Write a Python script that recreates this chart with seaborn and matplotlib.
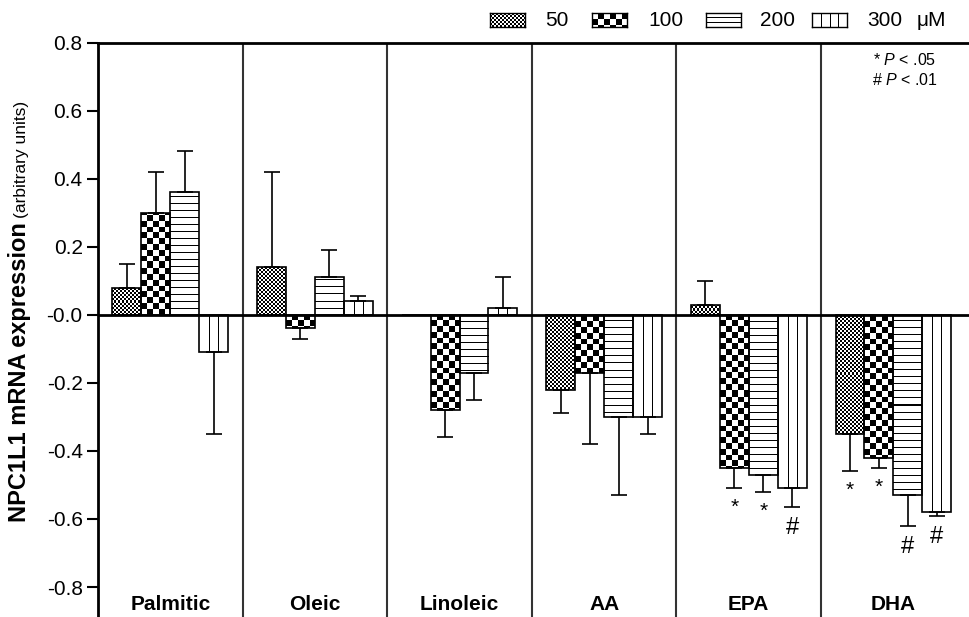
import numpy as np
import pandas as pd
import matplotlib
matplotlib.use('Agg')
from matplotlib import pyplot as plt
import seaborn as sns

# 数据: 各脂肪酸在4个浓度下的 NPC1L1 mRNA 表达 (均值, 误差)
acids = ['Palmitic', 'Oleic', 'Linoleic', 'AA', 'EPA', 'DHA']
doses = ['50', '100', '200', '300']
mean_50 = [0.08, 0.14, 0.0, -0.22, 0.03, -0.35]
mean_100 = [0.30, -0.04, -0.28, -0.17, -0.45, -0.42]
mean_200 = [0.36, 0.11, -0.17, -0.30, -0.47, -0.53]
mean_300 = [-0.11, 0.04, 0.02, -0.30, -0.51, -0.58]
err_50 = [0.07, 0.28, 0.0, 0.07, 0.07, 0.11]
err_100 = [0.12, 0.03, 0.08, 0.21, 0.06, 0.03]
err_200 = [0.12, 0.08, 0.08, 0.23, 0.05, 0.09]
err_300 = [0.24, 0.015, 0.09, 0.05, 0.055, 0.012]
# 显著性标记
sig_marks = [('EPA', '100', '*'), ('EPA', '200', '*'), ('EPA', '300', '#'),
             ('DHA', '50', '*'), ('DHA', '100', '*'), ('DHA', '200', '#'), ('DHA', '300', '#')]
ytick_vals = [-0.8, -0.6, -0.4, -0.2, 0.0, 0.2, 0.4, 0.6, 0.8]
ytick_labels = ['-0.8', '-0.6', '-0.4', '-0.2', '-0.0', '0.2', '0.4', '0.6', '0.8']

means = {'50': mean_50, '100': mean_100, '200': mean_200, '300': mean_300}
errs = {'50': err_50, '100': err_100, '200': err_200, '300': err_300}
rows = []
for d in doses:
    for i, a in enumerate(acids):
        rows.append({'acid': a, 'dose': d, 'value': means[d][i], 'err': errs[d][i]})
df = pd.DataFrame(rows)

sns.set_style('white')
plt.rcParams['font.family'] = ['Liberation Sans', 'DejaVu Sans']
plt.rcParams['mathtext.fontset'] = 'custom'
plt.rcParams['mathtext.rm'] = 'Liberation Sans'
plt.rcParams['mathtext.it'] = 'Liberation Sans:italic'
for key in ['text.color', 'axes.labelcolor', 'xtick.color', 'ytick.color', 'axes.edgecolor']:
    plt.rcParams[key] = 'black'

W, H = 970, 617
fig = plt.figure(figsize=(W / 100, H / 100), dpi=100)
ax = fig.add_axes([98 / W, 0, 872 / W, (H - 42.5) / H])

sns.barplot(data=df, x='acid', y='value', hue='dose', order=acids, hue_order=doses,
            palette={d: 'white' for d in doses}, saturation=1, edgecolor='black',
            linewidth=1.2, errorbar=None, width=0.8, legend=False, ax=ax)

ax.set_xlim(-0.5, 5.53)
ax.set_ylim(-0.888, 0.8)
ax.set_autoscale_on(False)


# 填充图案 (像素单位)
def pattern(kind, w, h, n):
    yy, xx = np.mgrid[0:h, 0:w]
    if kind == 'fine':
        return ((xx // 2 + yy // 2) % 2).astype(float)
    if kind == 'checker':
        c = w / n
        return (np.floor(xx / c) + np.floor(yy / c)) % 2
    if kind == 'hlines':
        return (yy % n == n - 1).astype(float)
    cuts = [int(round(w * j / n)) for j in range(1, n)]
    return np.isin(xx, cuts).astype(float)


kinds = {'50': 'fine', '100': 'checker', '200': 'hlines', '300': 'vlines'}
bar_n = {'50': 0, '100': 5, '200': 7, '300': 3}
key_n = {'50': 0, '100': 6, '200': 5, '300': 4}

bars = {}
for p in list(ax.patches):
    cx = p.get_x() + p.get_width() / 2
    i = int(round(cx))
    k = int(round((cx - i + 0.3) / 0.2))
    bars[(acids[i], doses[k])] = p
    h = p.get_height()
    p.set_facecolor('none')
    p.set_zorder(2)
    if abs(h) < 1e-6:
        continue
    bb = p.get_window_extent()
    wpx = max(int(round(bb.width)), 1)
    hpx = max(int(round(bb.height)), 1)
    arr = pattern(kinds[doses[k]], wpx, hpx, bar_n[doses[k]])
    y0, y1 = sorted([p.get_y(), p.get_y() + h])
    im = ax.imshow(arr, extent=(p.get_x(), p.get_x() + p.get_width(), y0, y1),
                   origin='lower' if h > 0 else 'upper', cmap='gray_r', vmin=0, vmax=1,
                   interpolation='nearest', aspect='auto', zorder=1.5)
    im.set_clip_path(p)

# 单侧误差线
for _, r in df.iterrows():
    if r['err'] <= 0:
        continue
    p = bars[(r['acid'], r['dose'])]
    cx = p.get_x() + p.get_width() / 2
    yerr = [[0], [r['err']]] if r['value'] >= 0 else [[r['err']], [0]]
    ax.errorbar(cx, r['value'], yerr=yerr, fmt='none', ecolor='black',
                elinewidth=1.2, capsize=5.5, capthick=1.2, zorder=3)

for a, d, m in sig_marks:
    p = bars[(a, d)]
    cx = p.get_x() + p.get_width() / 2
    r = df[(df.acid == a) & (df.dose == d)].iloc[0]
    ax.annotate(m, (cx, r['value'] - r['err']), xytext=(0, -7), textcoords='offset points',
                ha='center', va='top', fontsize=15 if m == '*' else 17)

ax.axhline(0, color='black', lw=2, zorder=4)
for x in np.arange(0.5, 5):
    ax.axvline(x, color='#333333', lw=1.5, zorder=0.5)

for i, a in enumerate(acids):
    ax.text(i, -0.85, a, ha='center', va='center', fontsize=15, fontweight='bold')

ax.set_yticks(ytick_vals, ytick_labels)
ax.set_xticks([])
ax.set_xlabel('')
ax.set_ylabel('')
ax.tick_params(axis='y', left=True, direction='out', length=8, width=1.5, labelsize=15, pad=3)
ax.spines['left'].set_linewidth(2)
ax.spines['top'].set_linewidth(2)
ax.spines['right'].set_visible(False)
ax.spines['bottom'].set_visible(False)

# y轴标题
fig.text(26 / W, 1 - 222 / H, 'NPC1L1 mRNA expression', rotation=90, rotation_mode='anchor',
         ha='right', va='baseline', fontsize=17, fontweight='bold')
fig.text(26 / W, 1 - 218 / H, '(arbitrary units)', rotation=90, rotation_mode='anchor',
         ha='left', va='baseline', fontsize=12.5)

# 图例 (手工绘制图案方块)
key_x = [490, 592, 706, 812]
text_x = [545, 648, 760, 867]
for d, kx, tx in zip(doses, key_x, text_x):
    kax = fig.add_axes([kx / W, 1 - 27 / H, 35 / W, 14 / H])
    kax.imshow(pattern(kinds[d], 35, 14, key_n[d]), cmap='gray_r', vmin=0, vmax=1,
               interpolation='nearest', aspect='auto')
    kax.set_xticks([])
    kax.set_yticks([])
    for s in kax.spines.values():
        s.set_linewidth(1)
        s.set_color('black')
    fig.text(tx / W, 1 - 20 / H, d, ha='left', va='center', fontsize=15)
fig.text(917 / W, 1 - 20 / H, 'μM', ha='left', va='center', fontsize=15)

fig.text(905 / W, 1 - 60 / H, '* $P$ < .05', ha='center', va='center', fontsize=11.5)
fig.text(905 / W, 1 - 80 / H, '# $P$ < .01', ha='center', va='center', fontsize=11.5)

fig.savefig('out.png', dpi=100)
